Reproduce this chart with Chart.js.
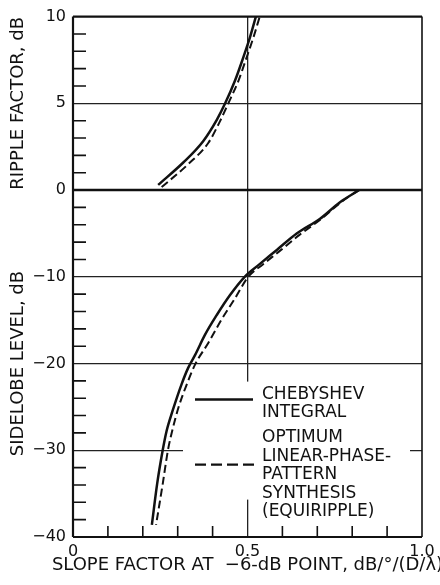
<!doctype html>
<html>
<head>
<title>Slope factor vs ripple and sidelobe level</title>
<script src="https://cdn.jsdelivr.net/npm/chart.js@4/dist/chart.umd.min.js"></script>
<style>
body { margin: 0; background: #fff; }
</style>
</head>
<body>
<canvas id="canvas" width="440" height="585"></canvas>
<script>
// upper panel: ripple factor (dB) against slope factor
var rippleChebX = [0.244, 0.316, 0.373, 0.412, 0.436, 0.464, 0.488, 0.507, 0.524];
var rippleChebY = [0.30, 1.59, 2.82, 4.05, 5.0, 6.3, 7.65, 8.8, 10.0];
var rippleEquiX = [0.254, 0.330, 0.388, 0.421, 0.445, 0.474, 0.496, 0.517, 0.535];
var rippleEquiY = [0.17, 1.49, 2.73, 3.96, 5.0, 6.3, 7.56, 8.8, 10.0];

// lower panel: sidelobe level (dB) against slope factor
var sideChebY = [0, -1.4, -3.3, -5.0, -6.9, -8.6, -10, -12.1, -14.4, -16.7, -19.0, -20.5, -22.4, -25.5, -27.8, -30, -33.9, -38.6];
var sideChebX = [0.82, 0.765, 0.708, 0.641, 0.584, 0.533, 0.492, 0.450, 0.412, 0.378, 0.350, 0.330, 0.311, 0.285, 0.268, 0.257, 0.241, 0.226];
var sideEquiY = [0, -1.4, -3.3, -5.2, -7.1, -8.6, -10, -12.5, -14.9, -17.6, -20.1, -22.4, -25.1, -27.8, -30, -33.9, -38.6];
var sideEquiX = [0.818, 0.768, 0.712, 0.648, 0.590, 0.543, 0.502, 0.464, 0.426, 0.388, 0.350, 0.326, 0.302, 0.284, 0.272, 0.257, 0.238];

// tick labels
var xLabelValues  = [0, 0.5, 1.0];
var xLabels       = ['0', '0.5', '1.0'];
var rippleLabelValues = [10, 5, 0];
var rippleLabels      = ['10', '5', '0'];
var sideLabelValues = [-10, -20, -30, -40];
var sideLabels      = ['\u221210', '\u221220', '\u221230', '\u221240'];

var xTitle = 'SLOPE FACTOR AT  \u22126-dB POINT, dB/\u00b0/(D/\u03bb)';
var chebLegend = ['CHEBYSHEV', 'INTEGRAL'];
var equiLegend = ['OPTIMUM', 'LINEAR-PHASE-', 'PATTERN', 'SYNTHESIS', '(EQUIRIPPLE)'];

var FONT = 'DejaVu Sans';
var INK = '#111';

function pts(xs, ys) {
	var out = [];
	for (var i = 0; i < xs.length; i++) out.push({x: xs[i], y: ys[i]});
	return out;
}
function near(a, b) { return Math.abs(a - b) < 1e-6; }
function labelFor(values, labels) {
	return function(v) {
		for (var i = 0; i < values.length; i++) if (near(v, values[i])) return labels[i];
		return '';
	};
}
function gridAt(values) {
	return function(ctx) {
		if (!ctx.tick) return 'rgba(0,0,0,0)';
		for (var i = 0; i < values.length; i++) if (near(ctx.tick.value, values[i])) return '#222';
		return 'rgba(0,0,0,0)';
	};
}

// frame, minor ticks, legend box and x title
var decor = {
	id: 'decor',
	beforeDatasetsDraw: function(chart) {
		var ctx = chart.ctx, a = chart.chartArea;
		ctx.save();
		ctx.fillStyle = '#fff';
		ctx.fillRect(a.left + 110, a.top + 365, a.right - 12 - (a.left + 110), 118);
		ctx.restore();
	},
	afterDatasetsDraw: function(chart) {
		var ctx = chart.ctx, a = chart.chartArea, s = chart.scales;
		ctx.save();
		ctx.strokeStyle = INK;

		// minor ticks
		ctx.lineWidth = 1.6;
		ctx.beginPath();
		s.yr.ticks.forEach(function(t) {
			if (t.value % 5 === 0) return;
			var y = s.yr.getPixelForValue(t.value);
			ctx.moveTo(a.left, y); ctx.lineTo(a.left + 13, y);
		});
		s.ys.ticks.forEach(function(t) {
			if (t.value % 10 === 0) return;
			var y = s.ys.getPixelForValue(t.value);
			ctx.moveTo(a.left, y); ctx.lineTo(a.left + 13, y);
		});
		s.x.ticks.forEach(function(t) {
			var v = Math.round(t.value * 10);
			if (v === 0 || v === 5 || v === 10) return;
			var x = s.x.getPixelForValue(t.value);
			ctx.moveTo(x, a.bottom); ctx.lineTo(x, a.bottom - 11);
		});
		ctx.stroke();

		// frame
		ctx.lineWidth = 2.2;
		ctx.beginPath();
		ctx.moveTo(a.left, a.top); ctx.lineTo(a.right, a.top);
		ctx.moveTo(a.left, a.top); ctx.lineTo(a.left, a.bottom);
		ctx.moveTo(a.left, a.bottom); ctx.lineTo(a.right, a.bottom);
		ctx.stroke();
		ctx.lineWidth = 1.6;
		ctx.beginPath();
		ctx.moveTo(a.right, a.top); ctx.lineTo(a.right, a.bottom);
		ctx.stroke();
		ctx.lineWidth = 2.6;
		var y0 = s.yr.getPixelForValue(0);
		ctx.beginPath();
		ctx.moveTo(a.left, y0); ctx.lineTo(a.right, y0);
		ctx.stroke();

		// legend
		var lx0 = a.left + 122, lx1 = a.left + 180, tx = a.left + 189;
		ctx.lineWidth = 2.5;
		ctx.beginPath();
		ctx.moveTo(lx0, a.top + 383); ctx.lineTo(lx1, a.top + 383);
		ctx.stroke();
		ctx.lineWidth = 2.2;
		ctx.setLineDash([11, 5]);
		ctx.beginPath();
		ctx.moveTo(lx0, a.top + 448); ctx.lineTo(lx1 + 2, a.top + 448);
		ctx.stroke();
		ctx.setLineDash([]);

		ctx.fillStyle = INK;
		ctx.font = '17px "' + FONT + '"';
		ctx.textAlign = 'left';
		ctx.textBaseline = 'middle';
		chebLegend.forEach(function(t, i) { ctx.fillText(t, tx, a.top + 378 + 18 * i); });
		equiLegend.forEach(function(t, i) { ctx.fillText(t, tx, a.top + 421 + 18.5 * i); });

		// x axis title, centred under the plot and allowed to run off the edge
		ctx.font = '18px "' + FONT + '"';
		ctx.textAlign = 'center';
		ctx.fillText(xTitle, (a.left + a.right) / 2, a.bottom + 28);
		ctx.restore();
	}
};

var solid = {borderColor: INK, borderWidth: 2.5, pointRadius: 0, cubicInterpolationMode: 'monotone', fill: false};
var dashed = {borderColor: INK, borderWidth: 2, borderDash: [8, 4], pointRadius: 0, cubicInterpolationMode: 'monotone', fill: false};

var datasets = [
	Object.assign({label: 'Chebyshev ripple', data: pts(rippleChebX, rippleChebY), yAxisID: 'yr'}, solid),
	Object.assign({label: 'Equiripple ripple', data: pts(rippleEquiX, rippleEquiY), yAxisID: 'yr'}, dashed),
	Object.assign({label: 'Chebyshev sidelobe', data: pts(sideChebX, sideChebY), yAxisID: 'ys'}, solid),
	Object.assign({label: 'Equiripple sidelobe', data: pts(sideEquiX, sideEquiY), yAxisID: 'ys'}, dashed)
];

var tickFont = {family: FONT, size: 16};
var titleFont = {family: FONT, size: 18};

new Chart(document.getElementById('canvas').getContext('2d'), {
	type: 'line',
	data: {datasets: datasets},
	plugins: [decor],
	options: {
		responsive: false,
		animation: false,
		layout: {padding: {top: 12, right: 18, left: 0, bottom: 0}},
		plugins: {legend: {display: false}, tooltip: {enabled: false}},
		scales: {
			x: {
				type: 'linear', min: 0, max: 1,
				afterFit: function(sc) { sc.height = 48; },
				ticks: {stepSize: 0.1, autoSkip: false, maxRotation: 0, padding: 5, color: INK, font: tickFont,
					callback: labelFor(xLabelValues, xLabels)},
				grid: {drawTicks: false, lineWidth: 1.3, color: gridAt([0.5])},
				border: {display: false}
			},
			yr: {
				type: 'linear', position: 'left', stack: 'v', stackWeight: 1, weight: 1,
				min: 0, max: 10,
				afterFit: function(sc) { sc.width = 73; },
				ticks: {stepSize: 1, autoSkip: false, padding: 7, color: INK, font: tickFont,
					callback: labelFor(rippleLabelValues, rippleLabels)},
				grid: {drawTicks: false, lineWidth: 1.3, color: gridAt([5])},
				border: {display: false},
				title: {display: true, text: 'RIPPLE FACTOR, dB', color: INK, font: titleFont, padding: {top: 8, bottom: 0}}
			},
			ys: {
				type: 'linear', position: 'left', stack: 'v', stackWeight: 2, weight: 0,
				min: -40, max: 0,
				afterFit: function(sc) { sc.width = 73; },
				ticks: {stepSize: 2, autoSkip: false, padding: 7, color: INK, font: tickFont,
					callback: labelFor(sideLabelValues, sideLabels)},
				grid: {drawTicks: false, lineWidth: 1.3, color: gridAt([-10, -20, -30])},
				border: {display: false},
				title: {display: true, text: 'SIDELOBE LEVEL, dB', color: INK, font: titleFont, padding: {top: 8, bottom: 0}}
			}
		}
	}
});
</script>
</body>
</html>
